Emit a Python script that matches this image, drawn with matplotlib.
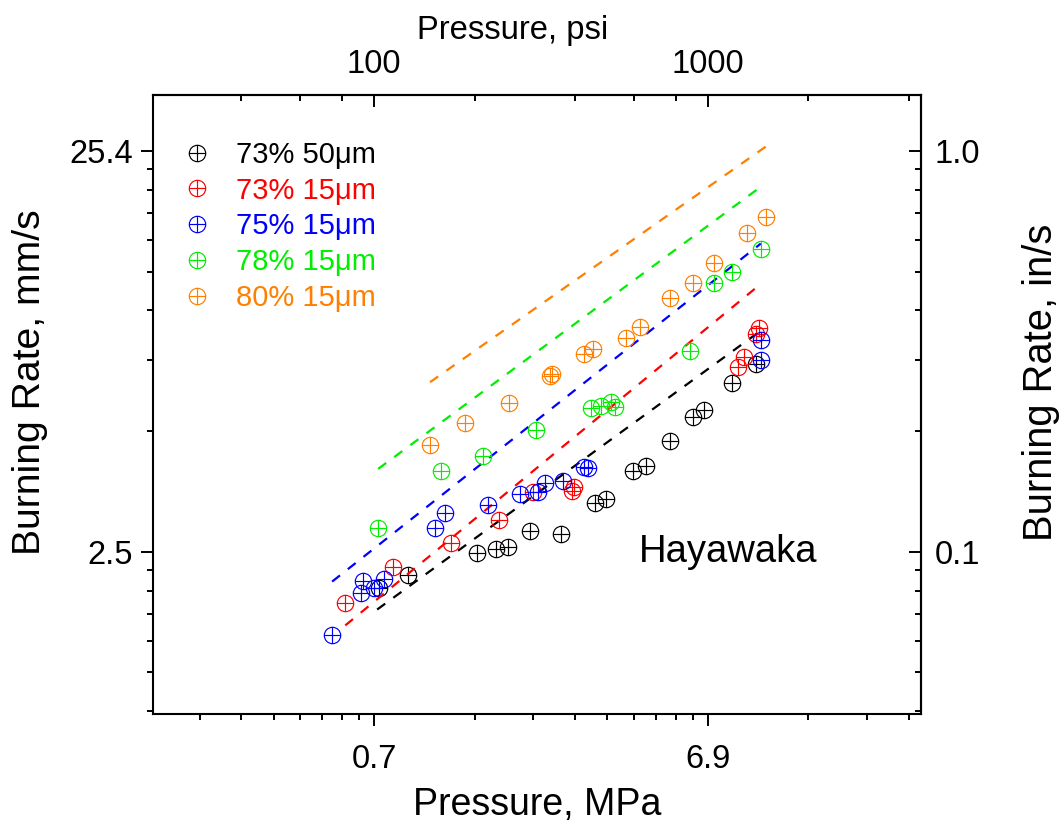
import numpy as np
import matplotlib
matplotlib.use("Agg")
import matplotlib.pyplot as plt
from matplotlib.path import Path
from matplotlib.ticker import FixedLocator, FixedFormatter, NullFormatter

plt.rcParams['font.family'] = ['Liberation Sans', 'DejaVu Sans']

MM_PER_IN = 25.4
MPA_PER_PSI = 0.0068948

labels = ['73% 50\u03bcm', '73% 15\u03bcm', '75% 15\u03bcm', '78% 15\u03bcm', '80% 15\u03bcm']
colors = ['black', '#ff0000', '#0000ff', '#00ee00', '#ff8000']

# measured burning rates: pressure in MPa, rate in mm/s
p_73_50 = [0.714, 0.871, 1.402, 1.599, 1.736, 2.021, 2.503, 3.163, 3.413, 4.112,
           4.497, 5.306, 6.218, 6.707, 8.136, 9.597]
r_73_50 = [2.067, 2.227, 2.525, 2.584, 2.614, 2.864, 2.816, 3.364, 3.441, 4.039,
           4.156, 4.796, 5.505, 5.730, 6.688, 7.457]

p_73_15 = [0.565, 0.786, 1.173, 1.632, 2.063, 2.699, 2.737, 8.483, 8.839, 9.597, 9.800]
r_73_15 = [1.897, 2.331, 2.674, 3.051, 3.582, 3.602, 3.686, 7.329, 7.762, 8.852, 9.161]

p_75_15 = [0.516, 0.630, 0.639, 0.689, 0.739, 1.050, 1.125, 1.513, 1.886, 2.135,
           2.241, 2.538, 2.933, 3.015, 9.935, 9.935]
r_75_15 = [1.570, 2.008, 2.152, 2.067, 2.176, 2.914, 3.176, 3.325, 3.541, 3.582,
           3.770, 3.814, 4.132, 4.110, 8.554, 7.631]

p_78_15 = [0.709, 1.094, 1.462, 2.106, 3.078, 3.297, 3.533, 3.632, 6.091, 7.185, 8.136, 9.935]
r_78_15 = [2.914, 4.039, 4.402, 5.110, 5.794, 5.861, 5.997, 5.829, 8.032, 11.92, 12.70, 14.49]

p_80_15 = [1.014, 1.291, 1.748, 2.320, 2.352, 2.933, 3.120, 3.918, 4.315, 5.306,
           6.218, 7.185, 9.025, 10.29]
r_80_15 = [4.687, 5.318, 5.963, 6.962, 7.041, 7.895, 8.125, 8.652, 9.215, 10.88,
           11.86, 13.37, 15.88, 17.40]

pressures = [p_73_50, p_73_15, p_75_15, p_78_15, p_80_15]
rates = [r_73_50, r_73_15, r_75_15, r_78_15, r_80_15]

# power-law fit lines, given by their end points (MPa, mm/s)
fit_p = [[0.704, 10.15], [0.565, 9.80], [0.516, 9.935], [0.709, 9.935], [1.014, 10.36]]
fit_r = [[1.822, 9.161], [1.663, 11.72], [2.139, 14.91], [4.087, 20.67], [6.726, 26.14]]

# circle with a plus inside
oplus = Path.make_compound_path(
    Path.unit_circle(),
    Path([[-1, 0], [1, 0], [0, -1], [0, 1]],
         [Path.MOVETO, Path.LINETO, Path.MOVETO, Path.LINETO]))

fig = plt.figure(figsize=(10.59, 8.30), dpi=100)
ax = fig.add_axes([0.1445, 0.1398, 0.7252, 0.7457])
ax.set_xscale('log')
ax.set_yscale('log')

for p, r, fp, fr, c, lab in zip(pressures, rates, fit_p, fit_r, colors, labels):
    pp = np.geomspace(fp[0], fp[1], 50)
    n = np.log(fr[1] / fr[0]) / np.log(fp[1] / fp[0])
    ax.plot(pp, fr[0] * (pp / fp[0]) ** n, color=c, lw=1.6, ls=(0, (4.5, 4.5)))
    ax.plot(p, r, ls='none', marker=oplus, ms=11.8, mfc='none', mec=c, mew=0.85, label=lab)

ax.set_xlim(0.15, 30)
ax.set_ylim(1.0, 35)

# bottom axis in MPa, ticks placed at round psi values
psi_major = [100, 1000]
psi_minor_bottom = [30, 40, 50, 60, 70, 80, 90, 200, 300, 400, 500, 600, 700, 800, 900,
                    2000, 3000, 4000]
ax.xaxis.set_major_locator(FixedLocator([v * MPA_PER_PSI for v in psi_major]))
ax.xaxis.set_major_formatter(FixedFormatter(['0.7', '6.9']))
ax.xaxis.set_minor_locator(FixedLocator([v * MPA_PER_PSI for v in psi_minor_bottom]))
ax.xaxis.set_minor_formatter(NullFormatter())

# left axis in mm/s, ticks placed at round in/s values
ins_major = [0.1, 1.0]
ins_minor = [0.04, 0.05, 0.06, 0.07, 0.08, 0.09, 0.2, 0.3, 0.4, 0.5, 0.6, 0.7, 0.8, 0.9]
ax.yaxis.set_major_locator(FixedLocator([v * MM_PER_IN for v in ins_major]))
ax.yaxis.set_major_formatter(FixedFormatter(['2.5', '25.4']))
ax.yaxis.set_minor_locator(FixedLocator([v * MM_PER_IN for v in ins_minor]))
ax.yaxis.set_minor_formatter(NullFormatter())

ax.tick_params(which='major', direction='out', length=8.5, width=1.4, labelsize=23.5)
ax.tick_params(axis='x', which='major', pad=13)
ax.tick_params(axis='y', which='major', pad=6)
ax.tick_params(which='minor', direction='out', length=4.5, width=1.4)
for s in ax.spines.values():
    s.set_linewidth(1.5)

ax.set_xlabel('Pressure, MPa', fontsize=27, labelpad=9)
ax.set_ylabel('Burning Rate, mm/s', fontsize=28.2)
ax.yaxis.set_label_coords(0.0455, 0.5398, transform=fig.transFigure)

secx = ax.secondary_xaxis('top', functions=(lambda p: p / MPA_PER_PSI,
                                             lambda s: s * MPA_PER_PSI))
secx.xaxis.set_major_locator(FixedLocator(psi_major))
secx.xaxis.set_major_formatter(FixedFormatter(['100', '1000']))
secx.xaxis.set_minor_locator(FixedLocator([40, 60, 80, 200, 400, 600, 800, 2000, 4000]))
secx.xaxis.set_minor_formatter(NullFormatter())
secx.tick_params(which='major', direction='in', length=8.5, width=1.4, labelsize=23.5, pad=11)
secx.tick_params(which='minor', direction='in', length=4.5, width=1.4)
secx.spines['top'].set_linewidth(1.5)
secx.set_xlabel('Pressure, psi', fontsize=23.6)
secx.xaxis.set_label_coords(0.4844, 0.953, transform=fig.transFigure)

secy = ax.secondary_yaxis('right', functions=(lambda r: r / MM_PER_IN,
                                               lambda i: i * MM_PER_IN))
secy.yaxis.set_major_locator(FixedLocator(ins_major))
secy.yaxis.set_major_formatter(FixedFormatter(['0.1', '1.0']))
secy.yaxis.set_minor_locator(FixedLocator(ins_minor))
secy.yaxis.set_minor_formatter(NullFormatter())
secy.tick_params(which='major', direction='in', length=8.5, width=1.4, labelsize=23.5, pad=10)
secy.tick_params(which='minor', direction='in', length=4.5, width=1.4)
secy.spines['right'].set_linewidth(1.5)
secy.set_ylabel('Burning Rate, in/s', fontsize=28.7)
secy.yaxis.set_label_coords(0.965, 0.5398, transform=fig.transFigure)

leg = ax.legend(loc='upper left', bbox_to_anchor=(0.023, 0.945), frameon=False,
                fontsize=21, handlelength=1.0, handletextpad=0.85,
                labelspacing=0.27, borderaxespad=0)
for txt, c in zip(leg.get_texts(), colors):
    txt.set_color(c)

ax.text(0.749, 0.262, 'Hayawaka', transform=ax.transAxes, ha='center', va='center',
        fontsize=27.5)

fig.savefig('out.png', dpi=100)
